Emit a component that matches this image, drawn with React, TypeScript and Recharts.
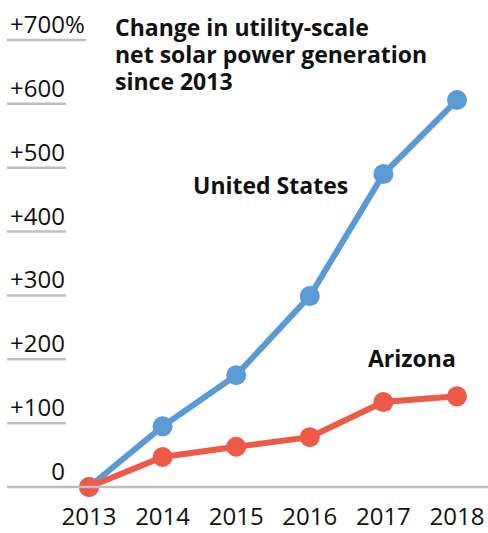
import React from 'react';
import { LineChart, Line, XAxis, YAxis } from 'recharts';

const years = [2013, 2014, 2015, 2016, 2017, 2018];
const unitedStates = [0, 95, 175, 299, 490, 606];
const arizona = [0, 47, 63, 78, 133, 142];
const yTicks = [0, 100, 200, 300, 400, 500, 600, 700];
const yTickLabels = ['0', '+100', '+200', '+300', '+400', '+500', '+600', '+700%'];

const BLUE = '#5b9bd5';
const RED = '#ef5a48';
const GRID = '#bfbfbf';
const FONT = '"Open Sans", sans-serif';

const chartData = years.map((year, i) => ({
  year,
  us: unitedStates[i],
  az: arizona[i]
}));

// tick label sits on a short gray underline; zero gets the full-width baseline
const YTick = ({ y, payload }: any) => {
  const label = yTickLabels[yTicks.indexOf(payload.value)] ?? String(payload.value);
  const hasPct = label.endsWith('%');
  const num = hasPct ? label.slice(0, -1) : label;
  const lineEnd = payload.value === 0 ? 488 : hasPct ? 86 : 66;
  return (
    <g>
      <line x1={7} x2={lineEnd} y1={y} y2={y} stroke={GRID} strokeWidth={2.5} />
      <text x={65} y={y - 7} textAnchor="end" fontSize={24} fill="#111" fontFamily={FONT}>
        {num}
      </text>
      {hasPct && (
        <text x={65} y={y - 7} textAnchor="start" fontSize={24} fill="#111" fontFamily={FONT}>
          %
        </text>
      )}
    </g>
  );
};

const XTick = ({ x, y, payload }: any) => (
  <text x={x} y={y + 30} textAnchor="middle" fontSize={24} fill="#111" fontFamily={FONT}>
    {payload.value}
  </text>
);

const labelStyle: React.CSSProperties = {
  position: 'absolute',
  fontSize: 23,
  lineHeight: '27px',
  fontWeight: 700,
  color: '#111',
  whiteSpace: 'nowrap'
};

const App: React.FC = () => {
  return (
    <div style={{ position: 'relative', width: 488, height: 533, fontFamily: FONT, background: '#fff' }}>
      <style>{'body{margin:0}'}</style>
      <LineChart width={488} height={533} data={chartData} margin={{ top: 40, right: 31, bottom: 0, left: 0 }}>
        <XAxis
          dataKey="year"
          type="number"
          domain={[2013, 2018]}
          ticks={years}
          height={46}
          axisLine={false}
          tickLine={false}
          tick={<XTick />}
        />
        <YAxis
          domain={[0, 700]}
          ticks={yTicks}
          width={89}
          axisLine={false}
          tickLine={false}
          tick={<YTick />}
        />
        <Line
          dataKey="us"
          stroke={BLUE}
          strokeWidth={6}
          dot={{ r: 10, fill: BLUE, stroke: 'none' }}
          activeDot={false}
          isAnimationActive={false}
        />
        <Line
          dataKey="az"
          stroke={RED}
          strokeWidth={6}
          dot={{ r: 10, fill: RED, stroke: 'none' }}
          activeDot={false}
          isAnimationActive={false}
        />
      </LineChart>
      <div style={{ ...labelStyle, left: 115, top: 14 }}>
        Change in utility-scale
        <br />
        net solar power generation
        <br />
        since 2013
      </div>
      <div style={{ ...labelStyle, left: 193, top: 172 }}>United States</div>
      <div style={{ ...labelStyle, left: 368, top: 345 }}>Arizona</div>
    </div>
  );
};

export default App;
